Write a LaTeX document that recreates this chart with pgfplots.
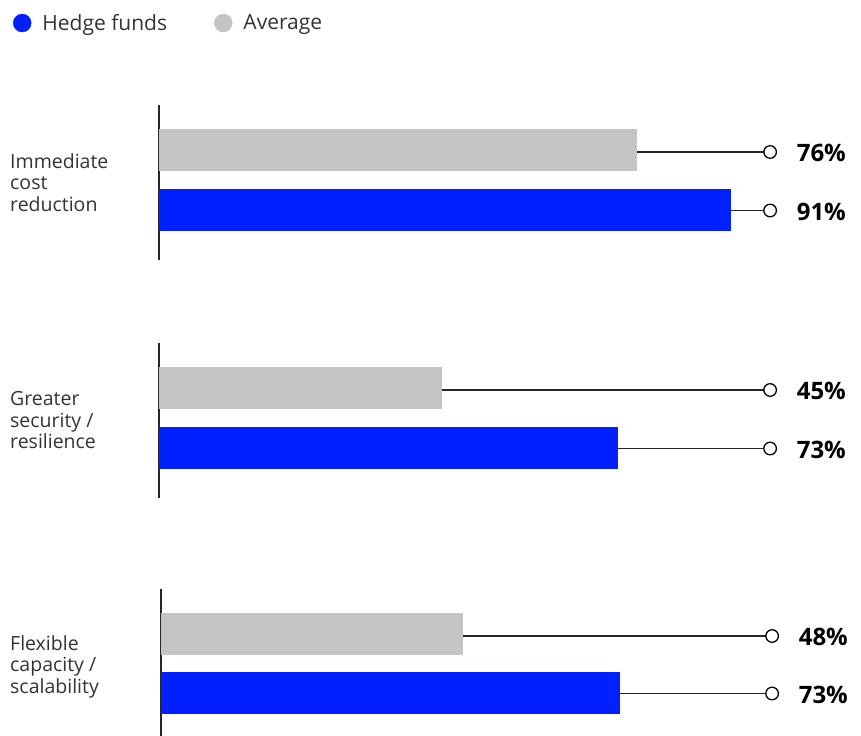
\documentclass[border=0pt]{standalone}
\usepackage{fontspec}
\setmainfont{Open Sans}
\usepackage{pgfplots}
\pgfplotsset{compat=1.18}
\definecolor{hfblue}{RGB}{0,32,255}
\definecolor{avggray}{RGB}{196,196,196}
\definecolor{txt}{RGB}{51,51,51}
\tikzset{
  pct/.style={anchor=west, inner sep=0pt, xshift=26bp, yshift=-1bp, text=black,
    font=\fontsize{24bp}{24bp}\selectfont\bfseries},
}
\pgfplotsset{
  grp/.style={
    scale only axis, width=628.7bp, height=155bp,
    xmin=0, xmax=100, ymin=0, ymax=155,
    clip=false,
    axis x line=none, axis y line*=left,
    axis line style={black!85, line width=1.4bp},
    xtick=\empty, ytick={77.5}, major tick length=0pt,
    yticklabel style={anchor=west, xshift=-149bp, align=left, inner sep=0pt,
      text=txt, font=\fontsize{19.5bp}{21.5bp}\selectfont},
  },
  conn/.style={line width=1.4bp, color=black!85, mark=*, mark indices={2},
    mark size=6.3bp, mark options={fill=white, draw=black, line width=1.3bp}},
}
\begin{document}
\begin{tikzpicture}
\path[use as bounding box] (0,0) rectangle (861bp,-736bp);
% Group 1
\begin{axis}[grp, at={(159bp,-105bp)}, anchor=north west,
  yticklabels={{Immediate\\cost\\reduction}},
  legend style={at={(axis description cs:-0.2322,1.529)}, anchor=west,
    draw=none, fill=none, inner sep=0pt, outer sep=0pt,
    font=\fontsize{21bp}{21bp}\selectfont, text=txt,
    nodes={inner xsep=0pt},
    /tikz/every odd column/.append style={column sep=11bp},
    /tikz/every even column/.append style={column sep=47bp}},
  legend columns=2]
\addlegendimage{legend image code/.code={\fill[hfblue] (9bp,0) circle (9bp);}}
\addlegendentry{Hedge funds}
\addlegendimage{legend image code/.code={\fill[avggray] (9bp,0) circle (9bp);}}
\addlegendentry{Average}
\addplot[xbar, bar width=42bp, bar shift=0pt, fill=avggray, draw=none, forget plot] coordinates {(76,110)};
\addplot[xbar, bar width=42bp, bar shift=0pt, fill=hfblue, draw=none, forget plot] coordinates {(91,50)};
\addplot[conn, forget plot] coordinates {(76,108) (97.2,108)} node[pct, pos=1] {76\%};
\addplot[conn, forget plot] coordinates {(91,49.5) (97.2,49.5)} node[pct, pos=1] {91\%};
\end{axis}
% Group 2
\begin{axis}[grp, at={(159bp,-343bp)}, anchor=north west,
  yticklabels={{Greater\\security /\\resilience}}]
\addplot[xbar, bar width=42bp, bar shift=0pt, fill=avggray, draw=none] coordinates {(45,110)};
\addplot[xbar, bar width=42bp, bar shift=0pt, fill=hfblue, draw=none] coordinates {(73,50)};
\addplot[conn] coordinates {(45,108) (97.2,108)} node[pct, pos=1] {45\%};
\addplot[conn] coordinates {(73,49.5) (97.2,49.5)} node[pct, pos=1] {73\%};
\end{axis}
% Group 3
\begin{axis}[grp, at={(161bp,-589bp)}, anchor=north west,
  yticklabels={{Flexible\\capacity /\\scalability}},
  yticklabel style={xshift=-2bp}]
\addplot[xbar, bar width=42bp, bar shift=0pt, fill=avggray, draw=none] coordinates {(48,110)};
\addplot[xbar, bar width=42bp, bar shift=0pt, fill=hfblue, draw=none] coordinates {(73,51)};
\addplot[conn] coordinates {(48,108) (97.2,108)} node[pct, pos=1] {48\%};
\addplot[conn] coordinates {(73,50.5) (97.2,50.5)} node[pct, pos=1] {73\%};
\end{axis}
\end{tikzpicture}
\end{document}
